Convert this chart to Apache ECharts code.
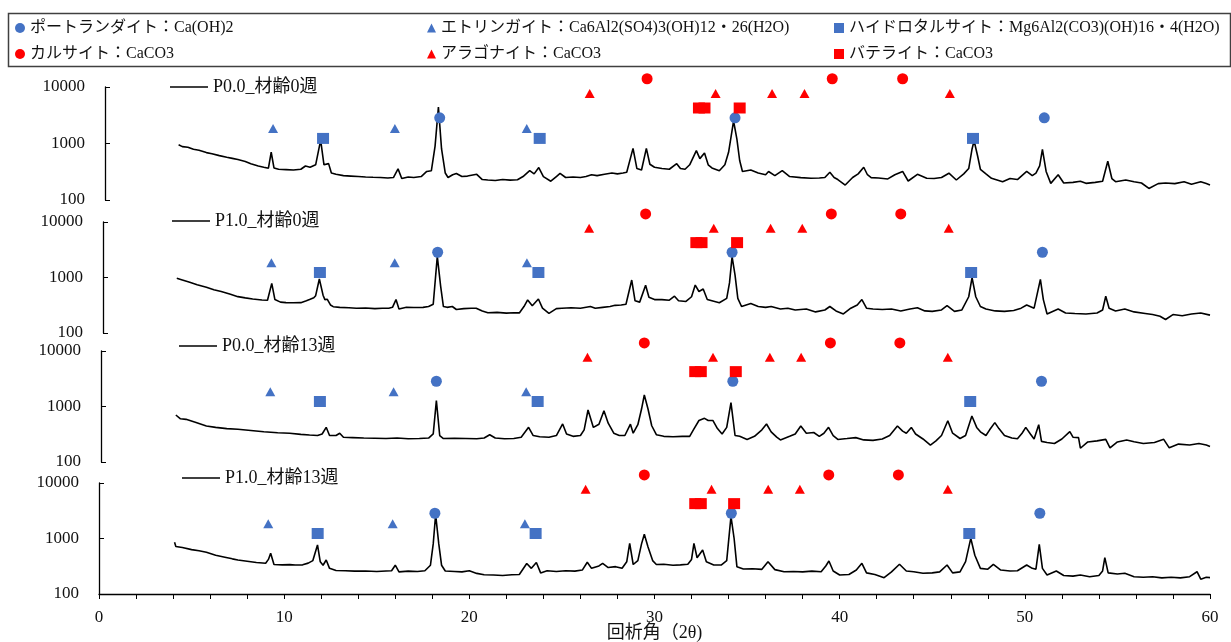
<!DOCTYPE html>
<html>
<head>
<meta charset="utf-8">
<title>XRD</title>
<script src="https://cdn.jsdelivr.net/npm/echarts@6/dist/echarts.min.js"></script>
<style>
  html, body { margin: 0; padding: 0; background: #fff; }
  #chart { width: 1231px; height: 642px; }
</style>
</head>
<body>
<div id="chart"></div>
<script>
// ── Data ──────────────────────────────────────────────────────────────────────

const traceNames = ['P0.0_材齢0週', 'P1.0_材齢0週', 'P0.0_材齢13週', 'P1.0_材齢13週'];

// [2θ, intensity]
const traceP00w0 = [
  [4.3,950],[4.5,880],[4.8,860],[5.1,790],[5.4,760],[5.8,690],[6.1,660],[6.5,610],[6.9,570],[7.2,545],
  [7.5,520],[7.9,480],[8.2,440],[8.6,400],[8.9,380],[9.15,365],[9.3,700],[9.45,370],[9.7,350],[10.1,345],
  [10.5,340],[10.9,350],[11.15,400],[11.4,380],[11.7,420],[11.97,1150],[12.15,420],[12.4,440],[12.55,300],[12.8,285],
  [13.2,270],[13.6,265],[14.0,260],[14.4,255],[14.8,252],[15.2,250],[15.6,245],[15.9,250],[16.15,355],[16.35,240],
  [16.7,255],[17.0,250],[17.4,260],[17.7,320],[17.95,330],[18.15,900],[18.33,4400],[18.5,800],[18.7,300],[18.85,250],
  [19.1,280],[19.3,295],[19.6,260],[19.9,265],[20.4,285],[20.7,230],[21.0,226],[21.4,222],[21.8,230],[22.2,225],
  [22.6,228],[22.9,260],[23.26,330],[23.5,290],[23.75,375],[24.0,260],[24.4,215],[24.7,260],[24.9,295],[25.2,250],
  [25.6,255],[26.0,250],[26.3,260],[26.6,280],[26.9,270],[27.3,285],[27.7,300],[28.0,290],[28.3,300],[28.5,310],
  [28.84,820],[29.05,360],[29.3,340],[29.56,820],[29.75,430],[30.0,380],[30.4,360],[30.8,350],[31.2,440],[31.4,360],
  [31.65,350],[31.9,420],[32.26,750],[32.45,540],[32.7,680],[32.9,420],[33.1,370],[33.5,330],[33.8,420],[34.0,700],
  [34.27,2500],[34.45,1200],[34.6,500],[34.75,320],[35.2,340],[35.6,300],[36.0,280],[36.16,320],[36.5,270],[36.9,330],
  [37.3,260],[37.9,249],[38.45,242],[38.9,245],[39.2,250],[39.47,310],[39.7,250],[39.9,230],[40.3,184],[40.7,250],
  [41.0,290],[41.3,380],[41.5,280],[41.7,249],[42.1,245],[42.6,236],[42.98,280],[43.4,320],[43.7,217],[44.2,285],
  [44.7,242],[45.1,240],[45.5,250],[45.9,298],[46.3,226],[46.7,290],[46.97,360],[47.15,800],[47.26,1120],[47.45,600],
  [47.6,350],[47.9,290],[48.2,242],[48.8,211],[49.2,240],[49.6,230],[50.1,320],[50.4,270],[50.6,300],[50.8,400],
  [50.95,785],[51.15,320],[51.4,197],[51.8,279],[52.1,200],[52.6,205],[53.0,215],[53.3,197],[53.8,205],[54.2,215],
  [54.48,485],[54.7,240],[54.9,211],[55.45,226],[55.9,210],[56.3,200],[56.7,160],[57.2,195],[57.6,200],[58.1,195],
  [58.6,211],[59.0,190],[59.5,211],[59.8,195],[60.0,184]
];

const traceP10w0 = [
  [4.2,965],[4.5,900],[4.9,820],[5.3,740],[5.8,665],[6.2,600],[6.6,560],[7.1,500],[7.5,452],[7.9,430],
  [8.3,410],[8.8,394],[9.1,390],[9.33,785],[9.5,400],[9.8,360],[10.1,352],[10.5,350],[10.9,352],[11.2,380],
  [11.37,400],[11.6,430],[11.7,470],[11.9,940],[12.1,480],[12.2,400],[12.33,405],[12.5,320],[12.65,298],[13.0,290],
  [13.5,285],[13.9,279],[14.4,282],[14.9,275],[15.3,280],[15.65,279],[15.85,290],[16.04,400],[16.2,270],[16.6,290],
  [17.0,288],[17.5,290],[17.8,300],[18.05,330],[18.27,2400],[18.45,700],[18.6,300],[18.8,290],[19.08,300],[19.3,265],
  [19.7,275],[20.1,280],[20.37,280],[20.7,250],[21.0,232],[21.5,235],[22.0,228],[22.4,232],[22.7,230],[22.95,300],
  [23.15,395],[23.4,310],[23.73,410],[23.95,280],[24.3,225],[24.7,275],[25.0,280],[25.5,285],[26.0,280],[26.54,300],
  [26.8,280],[27.2,290],[27.6,300],[27.87,315],[28.2,320],[28.46,330],[28.77,900],[28.95,380],[29.2,360],[29.52,723],
  [29.7,440],[30.0,400],[30.4,400],[30.8,390],[31.08,460],[31.3,380],[31.7,370],[32.0,450],[32.2,730],[32.4,560],
  [32.63,620],[32.85,400],[33.1,380],[33.5,350],[33.9,420],[34.05,800],[34.19,2375],[34.35,1100],[34.5,420],[34.7,300],
  [35.2,340],[35.6,300],[36.0,290],[36.3,300],[36.8,270],[37.2,280],[37.6,260],[38.2,270],[38.7,240],[39.2,260],
  [39.47,300],[39.8,250],[40.2,220],[40.6,280],[40.95,320],[41.2,400],[41.45,280],[41.8,270],[42.3,265],[42.8,270],
  [43.3,250],[43.8,270],[44.2,285],[44.6,250],[45.0,245],[45.5,260],[45.8,310],[46.2,245],[46.6,260],[46.97,450],
  [47.15,993],[47.35,450],[47.6,300],[47.9,270],[48.4,250],[48.9,245],[49.4,255],[49.8,280],[50.1,320],[50.5,280],
  [50.84,927],[51.0,400],[51.2,220],[51.5,245],[51.8,270],[52.2,230],[52.7,225],[53.3,220],[53.9,230],[54.2,260],
  [54.37,460],[54.55,280],[54.9,250],[55.4,270],[55.9,240],[56.5,225],[56.9,215],[57.3,200],[57.6,175],[58.0,215],
  [58.5,205],[59.0,220],[59.5,230],[60.0,210]
];

const traceP00w13 = [
  [4.15,703],[4.4,600],[4.7,587],[5.2,520],[5.8,446],[6.3,420],[6.9,400],[7.5,388],[8.2,370],[8.9,350],
  [9.65,337],[10.3,330],[10.9,315],[11.37,306],[11.8,300],[12.05,320],[12.27,422],[12.45,300],[12.8,300],[13.0,330],
  [13.2,279],[13.7,275],[14.3,270],[14.9,268],[15.5,265],[16.1,270],[16.7,262],[17.3,265],[17.8,270],[18.05,320],
  [18.22,1273],[18.4,300],[18.6,265],[19.2,268],[19.8,265],[20.4,262],[20.8,270],[21.1,310],[21.4,270],[21.9,262],
  [22.4,265],[22.8,280],[23.2,422],[23.45,300],[23.8,285],[24.3,280],[24.7,300],[25.04,484],[25.25,320],[25.6,290],
  [26.0,300],[26.2,380],[26.41,865],[26.7,420],[27.0,480],[27.27,840],[27.5,500],[27.8,330],[28.1,300],[28.4,300],
  [28.7,480],[28.85,330],[29.1,470],[29.3,900],[29.45,1610],[29.65,900],[29.85,450],[30.1,310],[30.5,290],[31.0,285],
  [31.5,290],[31.9,290],[32.1,380],[32.4,560],[32.7,612],[32.9,560],[33.15,560],[33.4,400],[33.65,320],[33.9,420],
  [34.13,1172],[34.35,300],[34.6,290],[35.0,255],[35.4,290],[35.8,380],[36.05,484],[36.3,350],[36.6,280],[36.8,250],
  [37.3,290],[37.6,320],[37.9,446],[38.2,330],[38.6,340],[38.9,290],[39.15,330],[39.4,422],[39.65,300],[39.9,255],
  [40.4,265],[40.87,275],[41.3,250],[41.8,245],[42.3,260],[42.7,300],[43.12,446],[43.4,360],[43.6,330],[43.87,420],
  [44.1,320],[44.5,260],[44.9,202],[45.2,240],[45.5,300],[45.84,555],[46.1,330],[46.5,265],[46.8,300],[47.14,675],
  [47.4,420],[47.6,350],[47.9,300],[48.1,380],[48.38,512],[48.6,400],[48.9,300],[49.3,270],[49.6,262],[49.85,330],
  [50.05,420],[50.3,320],[50.5,260],[50.75,470],[50.9,235],[51.2,225],[51.6,215],[52.0,260],[52.43,352],[52.6,280],
  [52.9,275],[53.0,177],[53.4,230],[53.9,240],[54.37,256],[54.6,180],[55.0,230],[55.5,250],[55.9,232],[56.4,215],
  [57.0,225],[57.5,256],[57.8,180],[58.3,210],[58.9,202],[59.4,215],[59.8,202],[60.0,190]
];

const traceP10w13 = [
  [4.08,853],[4.15,720],[4.5,690],[5.0,630],[5.4,600],[5.8,564],[6.3,500],[6.8,460],[7.2,430],[7.5,410],
  [8.0,390],[8.5,370],[9.0,357],[9.15,420],[9.27,541],[9.45,340],[9.9,335],[10.3,338],[10.6,333],[11.0,335],
  [11.3,360],[11.55,400],[11.8,764],[11.95,380],[12.1,330],[12.27,410],[12.45,290],[12.8,265],[13.3,262],[13.8,258],
  [14.4,260],[15.0,255],[15.5,260],[15.8,262],[16.0,330],[16.2,250],[16.7,258],[17.2,255],[17.6,262],[17.9,330],
  [18.05,800],[18.18,2700],[18.35,800],[18.5,330],[18.7,260],[19.2,255],[19.6,250],[20.0,262],[20.4,235],[20.8,222],
  [21.3,220],[21.8,215],[22.3,222],[22.7,225],[23.1,355],[23.35,290],[23.62,370],[23.85,240],[24.2,262],[24.7,255],
  [25.2,262],[25.7,258],[26.1,270],[26.37,373],[26.6,290],[27.0,320],[27.2,357],[27.5,300],[27.9,311],[28.25,290],
  [28.5,380],[28.66,818],[28.85,340],[29.1,400],[29.3,800],[29.45,1190],[29.65,700],[29.9,400],[30.1,340],[30.5,343],
  [31.0,330],[31.4,335],[31.8,343],[32.0,420],[32.13,818],[32.3,450],[32.6,621],[32.8,380],[33.2,333],[33.6,333],
  [33.9,400],[34.13,2500],[34.3,1000],[34.45,311],[34.8,282],[35.3,285],[35.8,278],[36.13,382],[36.5,275],[37.0,252],
  [37.5,255],[38.0,250],[38.5,258],[39.0,252],[39.25,320],[39.42,393],[39.65,260],[40.0,220],[40.5,225],[40.9,270],
  [41.2,357],[41.45,240],[41.9,225],[42.4,197],[42.8,250],[43.23,343],[43.6,260],[44.0,252],[44.5,236],[45.0,240],
  [45.4,250],[45.8,333],[46.1,240],[46.5,250],[46.8,382],[47.08,1008],[47.3,500],[47.6,290],[48.0,280],[48.3,343],
  [48.7,270],[49.2,260],[49.6,262],[50.1,333],[50.4,290],[50.6,280],[50.78,785],[50.95,290],[51.2,220],[51.7,260],
  [52.1,215],[52.6,210],[53.0,220],[53.5,205],[54.0,215],[54.2,260],[54.32,451],[54.5,240],[55.0,230],[55.4,236],
  [55.9,205],[56.4,200],[56.9,205],[57.4,195],[57.9,200],[58.4,195],[58.9,205],[59.3,252],[59.5,185],[59.8,200],
  [60.0,197]
];

const traces = [traceP00w0, traceP10w0, traceP00w13, traceP10w13];

// Phase markers: 2θ positions per panel (top → bottom), and the height they sit at
const portlanditeX  = [[18.4, 34.35, 51.05], [18.29, 34.19, 50.95], [18.22, 34.23, 50.9], [18.14, 34.15, 50.81]];
const ettringiteX   = [[9.4, 15.98, 23.1], [9.31, 15.97, 23.11], [9.25, 15.91, 23.07], [9.14, 15.86, 23.0]];
const hydrotalciteX = [[12.1, 23.8, 47.2], [11.93, 23.73, 47.1], [11.93, 23.69, 47.05], [11.81, 23.58, 47.0]];
const calciteX      = [[29.6, 39.6, 43.4], [29.52, 39.55, 43.3], [29.45, 39.5, 43.25], [29.45, 39.41, 43.17]];
const aragoniteX    = [[26.5, 33.3, 36.35, 38.1, 45.95], [26.47, 33.2, 36.27, 37.98, 45.89],
                       [26.38, 33.16, 36.23, 37.92, 45.84], [26.28, 33.08, 36.14, 37.85, 45.84]];
const vateriteX     = [[32.4, 32.7, 34.6], [32.26, 32.54, 34.46], [32.2, 32.5, 34.39], [32.2, 32.5, 34.3]];

const phaseLevel = { portlandite: 2850, ettringite: 1850, hydrotalcite: 1230, calcite: 14000, aragonite: 7700, vaterite: 4250 };

const phaseNames = {
  portlandite:  'ポートランダイト：Ca(OH)2',
  ettringite:   'エトリンガイト：Ca6Al2(SO4)3(OH)12・26(H2O)',
  hydrotalcite: 'ハイドロタルサイト：Mg6Al2(CO3)(OH)16・4(H2O)',
  calcite:      'カルサイト：CaCO3',
  aragonite:    'アラゴナイト：CaCO3',
  vaterite:     'バテライト：CaCO3',
};

const xTicks = [0, 10, 20, 30, 40, 50, 60];

// ── Layout ────────────────────────────────────────────────────────────────────

const FONT = '"Liberation Serif", "Noto Sans CJK JP", serif';
const BLUE = '#4472C4';
const RED  = '#FF0000';

const panelTops    = [87, 222, 351, 483];
const panelHeights = [113, 111, 111, 111];
const panelAxisShift = [-6, -4, -2, 0];   // each panel's y axis sits a few px further right
const panelLegend  = [[170, 78], [172, 212], [179, 337], [182, 469]];

const phaseStyle = {
  portlandite:  { color: BLUE, symbol: 'circle',   size: 11 },
  ettringite:   { color: BLUE, symbol: 'triangle', size: [10, 9] },
  hydrotalcite: { color: BLUE, symbol: 'rect',     size: [12, 11] },
  calcite:      { color: RED,  symbol: 'circle',   size: 11 },
  aragonite:    { color: RED,  symbol: 'triangle', size: [10, 9] },
  vaterite:     { color: RED,  symbol: 'rect',     size: [12, 11] },
};
const phaseX = {
  portlandite: portlanditeX, ettringite: ettringiteX, hydrotalcite: hydrotalciteX,
  calcite: calciteX, aragonite: aragoniteX, vaterite: vateriteX,
};

// legend slots of the boxed header: [left, top]
const headerSlots = {
  portlandite: [15, 20], ettringite: [427, 20], hydrotalcite: [834, 20],
  calcite: [15, 46], aragonite: [427, 46], vaterite: [834, 46],
};

// ── Build option ──────────────────────────────────────────────────────────────

const grids = [], xAxes = [], yAxes = [], series = [], legends = [];

panelTops.forEach((top, i) => {
  const last = i === panelTops.length - 1;
  grids.push({ left: 99, right: 21, top, height: panelHeights[i], outerBoundsMode: 'none', containLabel: false });

  xAxes.push({
    gridIndex: i, type: 'value', min: 0, max: 60, interval: 2,
    axisLine: { show: last, onZero: false, lineStyle: { color: '#000', width: 1.3 } },
    axisTick: { show: last, length: 5, lineStyle: { color: '#000' } },
    axisLabel: {
      show: last, color: '#111', fontFamily: FONT, fontSize: 17, margin: 15,
      formatter: v => (xTicks.includes(v) ? String(v) : ''),
    },
    splitLine: { show: false },
    name: last ? '回析角（2θ)' : '', nameLocation: 'middle', nameGap: 30, nameMoveOverlap: false,
    nameTextStyle: { color: '#111', fontFamily: FONT, fontSize: 18 },
  });

  yAxes.push({
    gridIndex: i, type: 'log', logBase: 10, min: 100, max: 10000,
    offset: panelAxisShift[i],
    axisLine: { show: true, lineStyle: { color: '#000', width: 1.3 } },
    axisTick: { show: true, inside: true, length: 5, lineStyle: { color: '#000' } },
    axisLabel: { color: '#111', fontFamily: FONT, fontSize: 17, margin: 20, formatter: v => String(Math.round(v)) },
    splitLine: { show: false },
  });

  series.push({
    name: traceNames[i], type: 'line', xAxisIndex: i, yAxisIndex: i,
    data: traces[i], symbol: 'none', smooth: false,
    lineStyle: { color: '#000', width: 1.6 }, itemStyle: { color: '#000' },
    z: 2,
  });

  legends.push({
    data: [{ name: traceNames[i], icon: 'rect' }], left: panelLegend[i][0], top: panelLegend[i][1],
    itemWidth: 38, itemHeight: 1.5, itemGap: 0, padding: 0, selectedMode: false,
    itemStyle: { color: '#000' },
    textStyle: { color: '#111', fontFamily: FONT, fontSize: 18 },
  });

  Object.keys(phaseX).forEach(key => {
    const st = phaseStyle[key];
    series.push({
      name: phaseNames[key], type: 'scatter', xAxisIndex: i, yAxisIndex: i,
      data: phaseX[key][i].map(x => [x, phaseLevel[key]]),
      symbol: st.symbol, symbolSize: st.size, clip: false,
      itemStyle: { color: st.color, opacity: 1 }, z: 3,
    });
  });
});

Object.keys(headerSlots).forEach(key => {
  const st = phaseStyle[key];
  legends.push({
    data: [{ name: phaseNames[key], icon: st.symbol }],
    left: headerSlots[key][0], top: headerSlots[key][1],
    itemWidth: st.symbol === 'triangle' ? 9 : 10, itemHeight: st.symbol === 'triangle' ? 9 : 10,
    itemGap: 0, padding: 0, selectedMode: false,
    textStyle: { color: '#111', fontFamily: FONT, fontSize: 16 },
  });
});

const chart = echarts.init(document.getElementById('chart'), null, { renderer: 'canvas' });
chart.setOption({
  animation: false,
  backgroundColor: '#fff',
  grid: grids,
  xAxis: xAxes,
  yAxis: yAxes,
  legend: legends,
  series,
  graphic: [{
    type: 'rect', left: 6, top: 11,
    shape: { width: 1222, height: 53 },
    style: { fill: 'none', stroke: '#404040', lineWidth: 1.5 },
    silent: true,
  }],
});
</script>
</body>
</html>
